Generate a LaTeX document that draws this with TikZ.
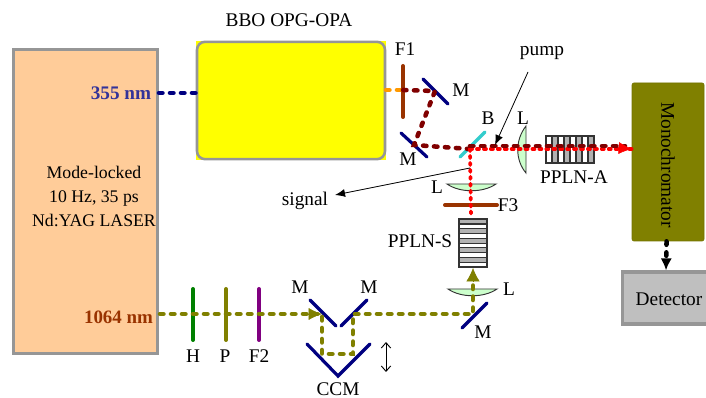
\documentclass[tikz,border=0pt]{standalone}
\usepackage{fontspec}
\setmainfont{Liberation Serif}
\usetikzlibrary{arrows.meta}

\definecolor{peach}{HTML}{FFCC99}
\definecolor{rim}{HTML}{969696}
\definecolor{lensgreen}{HTML}{CCFFCC}
\definecolor{filterbrown}{HTML}{993300}
\definecolor{darkred}{HTML}{800000}
\definecolor{navy}{HTML}{000080}
\definecolor{olive}{HTML}{808000}
\definecolor{teal}{HTML}{33CCCC}
\definecolor{indigo}{HTML}{333399}
\definecolor{stripe}{HTML}{B2B2B2}
\definecolor{plum}{HTML}{800080}
\definecolor{leaf}{HTML}{008000}
\definecolor{crystalyellow}{RGB}{255,255,0}
\definecolor{beamorange}{RGB}{255,153,0}
\definecolor{beamred}{RGB}{255,0,0}

\begin{document}
\begin{tikzpicture}[
	x=0.75pt, y=-0.75pt,
	txt/.style={font=\fontsize{14.5}{17}\selectfont, inner sep=0pt, align=center},
	box/.style={draw=rim, line width=2.4pt, rectangle, inner sep=0pt, align=center},
	mirror/.style={draw=navy, line width=2.4pt, line cap=round},
	filt/.style={line width=3pt, line cap=round},
	lens/.style={draw=black!80, fill=lensgreen, line width=0.7pt},
	crystal/.style={draw=black!80, line width=0.8pt},
	beam/.style={line width=3.4pt, line cap=round, dash pattern=on 2.6pt off 5.65pt},
	redbeam/.style={draw=beamred, line width=2.8pt, line cap=round, dash pattern=on 1.6pt off 3.6pt},
	seta/.style={-{Latex[length=10pt,width=9pt]}},
	fina/.style={-{Latex[length=7.5pt,width=6pt]}, line width=0.6pt}
	]
	\useasboundingbox (0,0) rectangle (706,398);

	\node[box, fill=peach, minimum width=108pt, minimum height=228pt] (laser) at (85.5,201.5) {};
	\node[txt, font=\fontsize{13.3}{18}\selectfont] (lasertxt) at (94,196) {Mode-locked\\10 Hz, 35 ps\\Nd:YAG LASER};
	\fill[crystalyellow] (196,41) rectangle (386,160);
	\node[box, line width=1.9pt, fill=crystalyellow, rounded corners=6pt, minimum width=141pt, minimum height=88pt] (opa) at (291,100.5) {};
	\node[txt] at (289,20) {BBO OPG-OPA};
	\node[draw=olive!90!black, line width=0.5pt, fill=olive, rounded corners=1.5pt, minimum width=54pt, minimum height=118.5pt, inner sep=0pt] (mono) at (668,162) {};
	\node[txt, rotate=-90] (monotxt) at (668,165) {Monochromator};
	\node[box, fill=black!25, minimum width=64pt, minimum height=39pt] (det) at (665.5,298) {};
	\node[txt] (dettxt) at (669,299) {Detector};

	% beam points
	\coordinate (p355) at (159,93);
	\coordinate (popa) at (196,93);
	\coordinate (porange) at (386,90);
	\coordinate (pf1) at (403,90);
	\coordinate (pm1) at (435,91);
	\coordinate (pm2) at (414,145);
	\coordinate (pb) at (470,149);
	\coordinate (pmonoa) at (625,146);
	\coordinate (pmonob) at (632,149);
	\coordinate (ps) at (471,218);
	\coordinate (p1064) at (160,314);
	\coordinate (pc1) at (322,314);
	\coordinate (pc2) at (322,354);
	\coordinate (pc3) at (353,354);
	\coordinate (pc4) at (353,314);
	\coordinate (pm3) at (473,314);
	\coordinate (pin) at (473,268);

	% filters and mirrors
	\draw[filt, filterbrown] (403,66) -- (403,117);
	\draw[filt, filterbrown] (445,205) -- (497,205);
	\draw[filt, leaf] (193,289) -- (193,340);
	\draw[filt, olive] (226,289) -- (226,340);
	\draw[filt, plum] (259,289) -- (259,340);
	\draw[mirror] (423,79) -- (448,104);
	\draw[mirror] (401,133) -- (427,157);
	\draw[mirror] (310,300) -- (336,326);
	\draw[mirror] (341,326) -- (367,300);
	\draw[mirror] (462,328) -- (487,303);
	\draw[mirror, line join=miter] (307,344) -- (338,376) -- (370,344);
	\draw[draw=teal, line width=2.4pt, line cap=round] (460,157) -- (485,132);

	% lenses
	\draw[lens] (526,126) .. controls (515,140) and (515,160) .. (526,173) -- cycle;
	\draw[lens] (447,184) .. controls (460,193) and (483,193) .. (496,184) -- cycle;
	\draw[lens] (448,289) .. controls (461,298) and (484,298) .. (497,289) -- cycle;

	% crystals
	\draw[crystal, fill=white] (546,136) rectangle (594,163);
	\foreach \i in {0,1,2,3} {
		\draw[crystal, fill=stripe] (552+\i*12,136) rectangle (558+\i*12,163);
	}
	\foreach \i in {1,...,7} {
		\draw[crystal] (546+\i*6,136) -- (546+\i*6,163);
	}
	\draw[crystal, fill=white] (459,219) rectangle (487,267);
	\foreach \i in {0,1,2,3,4} {
		\draw[crystal, fill=stripe] (459,219+\i*9.6) rectangle (487,224+\i*9.6);
	}

	% beams
	\draw[beam, navy] (p355) -- (popa);
	\draw[beam, beamorange] (porange) -- (pf1);
	\draw[beam, darkred] (pf1) -- (pm1) -- (pm2) -- (pb);
	\draw[redbeam] (pb) -- (ps);
	\draw[redbeam] (pb) -- (pmonob);
	\draw[beam, darkred] (pb) ++(0,-3) -- (pmonoa);
	\draw[beamred, seta] (618,148) -- (pmonob);
	\draw[beam, olive] (p1064) -- (pc1) -- (pc2) -- (pc3) -- (pc4) -- (pm3) -- (pin);
	\draw[olive, seta] (306,314) -- (pc1);
	\draw[olive, -{Latex[length=10pt,width=10pt]}] (473,282) -- (pin);
	\draw[beam, black, -{Latex[length=9pt,width=8.5pt]}] (mono) -- (det);

	% pointers
	\coordinate (ppump) at (528,72);
	\coordinate (ppumpe) at (495,145);
	\coordinate (psig) at (470,168);
	\coordinate (psige) at (335,195);
	\draw[fina] (ppump) -- (ppumpe);
	\draw[fina] (psig) -- (psige);
	\coordinate (pupa) at (386,342);
	\coordinate (pupb) at (386,372);
	\draw[{Straight Barb[length=4pt,width=7pt]}-{Straight Barb[length=4pt,width=7pt]}, line width=0.7pt] (pupa) -- (pupb);

	% labels
	\node[txt, text=indigo, font=\fontsize{14.4}{17}\selectfont\bfseries] at (121,93) {355 nm};
	\node[txt, text=filterbrown, font=\fontsize{14.2}{17}\selectfont\bfseries] at (118.5,317) {1064 nm};
	\node[txt] at (405,49) {F1};
	\node[txt] at (461,90) {M};
	\node[txt] at (408,159) {M};
	\node[txt] at (488,118) {B};
	\node[txt] at (523,118) {L};
	\node[txt] at (542,53) {pump};
	\node[txt] at (574,177) {PPLN-A};
	\node[txt] at (305,201) {signal};
	\node[txt] at (437,187) {L};
	\node[txt] at (508,205) {F3};
	\node[txt] at (420,241) {PPLN-S};
	\node[txt] at (509,289) {L};
	\node[txt] at (483,332) {M};
	\node[txt] at (193,356) {H};
	\node[txt] at (225,356) {P};
	\node[txt] at (259,356) {F2};
	\node[txt] at (300,287) {M};
	\node[txt] at (369,287) {M};
	\node[txt] at (338,389) {CCM};
\end{tikzpicture}
\end{document}
